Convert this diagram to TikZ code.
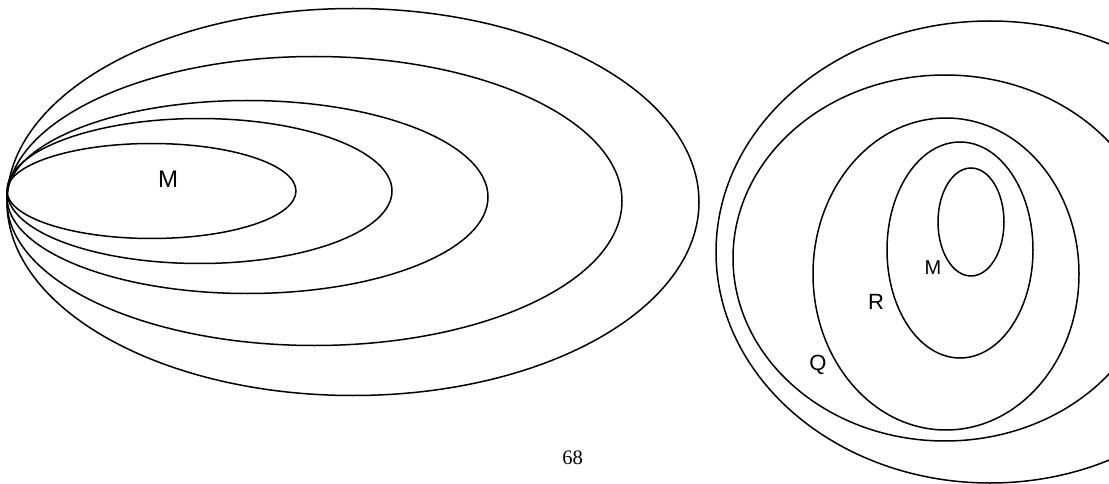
\documentclass[tikz,border=0pt]{standalone}
\usepackage{fontspec}
\setmainfont{Liberation Sans}
\newfontfamily\pagefont{Liberation Serif}

\begin{document}
\begin{tikzpicture}[x=1pt, y=-1pt, ring/.style = {draw, line width=1.5pt},
	lbl/.style = {inner sep=0pt, font=\fontsize{22}{26}\selectfont}]

		\useasboundingbox (0,0) rectangle (1109,484);
		\clip (0,0) rectangle (1109,484);

		% left: nested sets touching at one point
		\draw[ring] (151.5,191) ellipse [x radius=144.5pt, y radius=47.5pt];
		\draw[ring] (199.5,191) ellipse [x radius=192.5pt, y radius=72.5pt];
		\draw[ring] (247.5,197) ellipse [x radius=240.5pt, y radius=96.5pt];
		\draw[ring] (314.5,201) ellipse [x radius=307.5pt, y radius=144.5pt];
		\draw[ring] (353,202) ellipse [x radius=346pt, y radius=193.5pt];

		\node[lbl, font=\fontsize{24}{28}\selectfont] (M1) at (168,179) {M};

		% right: nested sets
		\draw[ring] (990,252) ellipse [x radius=274pt, y radius=231pt];
		\draw[ring] (945,258) ellipse [x radius=212pt, y radius=183pt];
		\draw[ring] (946,274) ellipse [x radius=133pt, y radius=156pt];
		\draw[ring] (960,250) ellipse [x radius=73pt, y radius=108pt];
		\draw[ring] (971,222) ellipse [x radius=33pt, y radius=54pt];

		\node[lbl, font=\fontsize{20}{24}\selectfont] (M2) at (933,268) {M};
		\node[lbl] (R) at (876,302) {R};
		\node[lbl] (Q) at (818,365) {Q};

		\node[inner sep=0pt, font=\pagefont\fontsize{20.5}{24}\selectfont] (page) at (572.5,458) {68};
	\end{tikzpicture}
\end{document}
